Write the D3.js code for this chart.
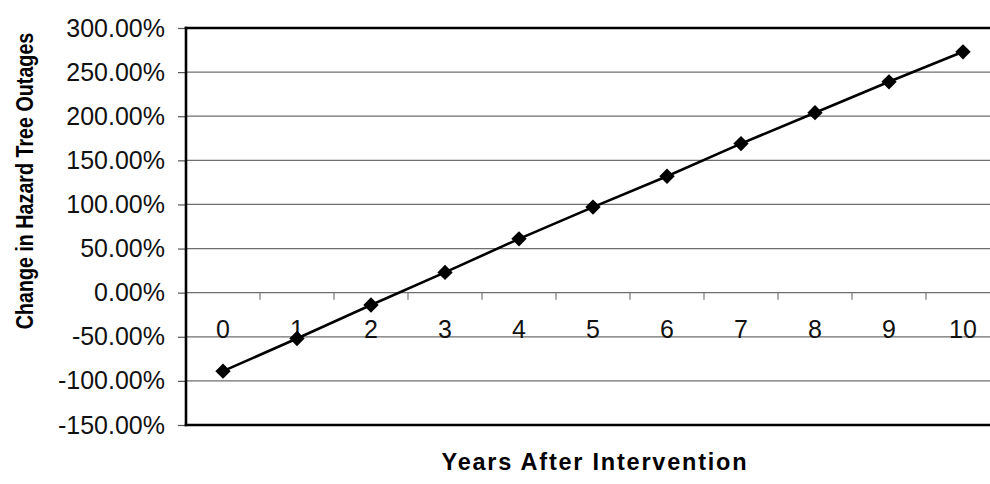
<!DOCTYPE html>
<html>
<head>
<meta charset="utf-8">
<script src="https://cdn.jsdelivr.net/npm/d3@7"></script>
<style>
  html, body { margin: 0; padding: 0; background: #fff; }
  svg { display: block; font-family: "Liberation Sans", Arial, Helvetica, sans-serif; }
</style>
</head>
<body>
<svg id="chart" width="990" height="484"></svg>
<script>
// Years after intervention and the modelled change in hazard tree outages (%)
const years = ["0", "1", "2", "3", "4", "5", "6", "7", "8", "9", "10"];
const change = [-89, -52, -14, 23, 61, 97, 132, 169, 204, 239, 273];
const yTicks = [-150, -100, -50, 0, 50, 100, 150, 200, 250, 300];

const svg = d3.select("#chart");
const plot = { left: 186, right: 1000, top: 28, bottom: 425 };

const x = d3.scaleBand().domain(years).range([plot.left, plot.right]).padding(0);
const y = d3.scaleLinear().domain([-150, 300]).range([plot.bottom, plot.top]);

const fmtPct = d => d.toFixed(2) + "%";

// Horizontal gridlines
svg.append("g")
  .selectAll("line")
  .data(yTicks.filter(d => d !== -150 && d !== 300))
  .join("line")
  .attr("x1", plot.left).attr("x2", plot.right)
  .attr("y1", d => y(d)).attr("y2", d => y(d))
  .attr("stroke", "#6e6e6e").attr("stroke-width", 1.2);

// Y axis with outward ticks and percentage labels
const yAxis = svg.append("g")
  .attr("transform", `translate(${plot.left},0)`)
  .call(d3.axisLeft(y).tickValues(yTicks).tickFormat(fmtPct).tickSize(8).tickPadding(13));
yAxis.select(".domain").remove();
yAxis.selectAll(".tick line").attr("stroke", "#555").attr("stroke-width", 1.2);
yAxis.selectAll(".tick text")
  .attr("font-size", 25)
  .attr("fill", "#111")
  .attr("font-family", "Liberation Sans, Arial, sans-serif");

// Category axis along the zero line: ticks between categories, labels below
const xAxis = svg.append("g")
  .attr("transform", `translate(0,${y(0)})`);
xAxis.selectAll("line")
  .data(years.slice(1))
  .join("line")
  .attr("x1", d => x(d)).attr("x2", d => x(d))
  .attr("y1", 0).attr("y2", 7)
  .attr("stroke", "#777").attr("stroke-width", 1.2);
xAxis.selectAll("text")
  .data(years)
  .join("text")
  .attr("x", d => x(d) + x.bandwidth() / 2)
  .attr("y", 45)
  .attr("text-anchor", "middle")
  .attr("font-size", 25)
  .attr("fill", "#111")
  .text(d => d);

// Plot frame: top, bottom and left edges
svg.append("g")
  .selectAll("line")
  .data([
    [plot.left, plot.top, plot.right, plot.top],
    [plot.left, plot.bottom, plot.right, plot.bottom],
    [plot.left, plot.top, plot.left, plot.bottom]
  ])
  .join("line")
  .attr("x1", d => d[0]).attr("y1", d => d[1])
  .attr("x2", d => d[2]).attr("y2", d => d[3])
  .attr("stroke", "#000").attr("stroke-width", 2.6)
  .attr("stroke-linecap", "square");

// Series line
const cx = d => x(d) + x.bandwidth() / 2;
const line = d3.line()
  .x((d, i) => cx(years[i]))
  .y(d => y(d));
svg.append("path")
  .datum(change)
  .attr("d", line)
  .attr("fill", "none")
  .attr("stroke", "#000")
  .attr("stroke-width", 2.6);

// Diamond markers
const diamond = d3.symbol().type(d3.symbolDiamond2).size(150);
svg.append("g")
  .selectAll("path")
  .data(change)
  .join("path")
  .attr("transform", (d, i) => `translate(${cx(years[i])},${y(d)})`)
  .attr("d", diamond)
  .attr("fill", "#000");

// Axis titles (the vertical one uses tall, narrow lettering)
svg.append("text")
  .attr("transform", `translate(33,${181}) rotate(-90) scale(1,1.22)`)
  .attr("text-anchor", "middle")
  .attr("font-size", 19.7)
  .attr("font-weight", "bold")
  .attr("fill", "#000")
  .text("Change in Hazard Tree Outages");

svg.append("text")
  .attr("x", 594)
  .attr("y", 470)
  .attr("text-anchor", "middle")
  .attr("font-size", 23.5)
  .attr("font-weight", "bold")
  .attr("fill", "#000")
  .attr("textLength", 305)
  .attr("lengthAdjust", "spacing")
  .text("Years After Intervention");
</script>
</body>
</html>
